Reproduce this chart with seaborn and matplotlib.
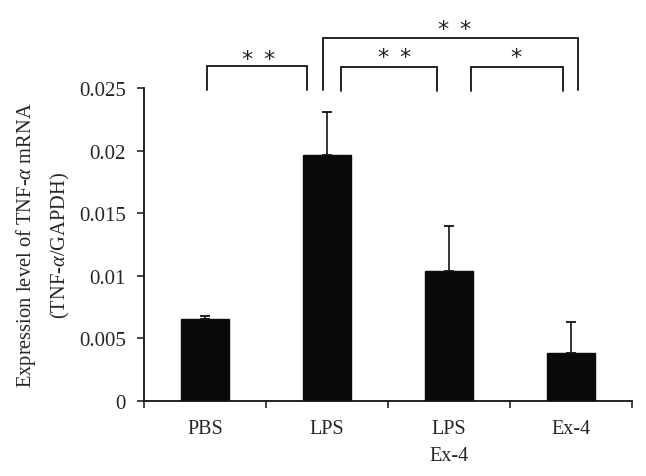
import matplotlib
matplotlib.use("Agg")
import matplotlib.pyplot as plt
import seaborn as sns
import pandas as pd
import numpy as np

categories = ["PBS", "LPS", "LPS\nEx-4", "Ex-4"]
values = [0.00655, 0.01964, 0.01041, 0.00381]
errors = [0.00026, 0.0035, 0.0036, 0.0025]
y_ticks = [0, 0.005, 0.01, 0.015, 0.02, 0.025]
y_tick_labels = ["0", "0.005", "0.01", "0.015", "0.02", "0.025"]

# significance brackets: (x_left, x_right, y_top, y_bottom_left, y_bottom_right, star_x list, star_y)
brackets = [
    (0.014, 0.834, 0.02681, 0.02487, 0.02487, [0.341, 0.527], 0.02734),
    (0.965, 3.06, 0.02902, 0.02487, 0.02487, [1.951, 2.131], 0.02975),
    (1.112, 1.904, 0.02669, 0.02475, 0.02475, [1.459, 1.639], 0.02751),
    (2.178, 2.937, 0.02669, 0.02475, 0.02475, [2.549], 0.02751),
]

sns.set_style("white")
plt.rcParams["font.family"] = ["Liberation Serif", "DejaVu Serif"]
plt.rcParams["mathtext.fontset"] = "custom"
plt.rcParams["mathtext.it"] = "Liberation Serif:italic"
plt.rcParams["mathtext.rm"] = "Liberation Serif"

fig = plt.figure(figsize=(6.46, 4.77), dpi=100)
ax = fig.add_axes([0.2229, 0.1579, 0.9783 - 0.2229, 0.8128 - 0.1579])

df = pd.DataFrame({"group": categories, "value": values})
sns.barplot(data=df, x="group", y="value", color="#0a0a0a", width=0.4,
            errorbar=None, ax=ax, saturation=1, edgecolor="#0a0a0a")

x = np.arange(len(categories))
ax.errorbar(x, values, yerr=[np.zeros(len(values)), errors], fmt="none",
            ecolor="#111111", elinewidth=1.2, capsize=3.5, capthick=1.3)

ax.set_xlim(-0.5, 3.5)
ax.set_ylim(0, 0.025)
ax.set_yticks(y_ticks)
ax.set_yticklabels(y_tick_labels)
ax.set_xticks(x)
ax.set_xticklabels(categories, linespacing=1.6)
ax.set_xticks(np.arange(-0.5, 4.0, 1.0), minor=True)
ax.tick_params(axis="x", which="major", length=0, pad=13, labelsize=14.5)
ax.tick_params(axis="x", which="minor", length=5, width=1.2, direction="out", bottom=True)
ax.tick_params(axis="y", which="major", length=5, width=1.2, direction="out", left=True,
               labelsize=15, pad=8)
ax.set_xlabel("")
ax.set_ylabel("Expression level of TNF-$\\mathit{\\alpha}$ mRNA\n(TNF-$\\mathit{\\alpha}$/GAPDH)",
              fontsize=14.8, linespacing=1.65, labelpad=5)

for s in ["top", "right"]:
    ax.spines[s].set_visible(False)
for s in ["left", "bottom"]:
    ax.spines[s].set_color("#111111")
    ax.spines[s].set_linewidth(1.3)

for (xl, xr, yt, ybl, ybr, sx, sy) in brackets:
    ax.plot([xl, xl, xr, xr], [ybl, yt, yt, ybr], color="#111111", lw=1.3,
            clip_on=False, solid_joinstyle="miter")
    for xs in sx:
        ax.text(xs, sy, "*", ha="center", va="center", fontsize=16,
                family="DejaVu Sans", color="#222222", clip_on=False)

fig.savefig("out.png", dpi=100)
